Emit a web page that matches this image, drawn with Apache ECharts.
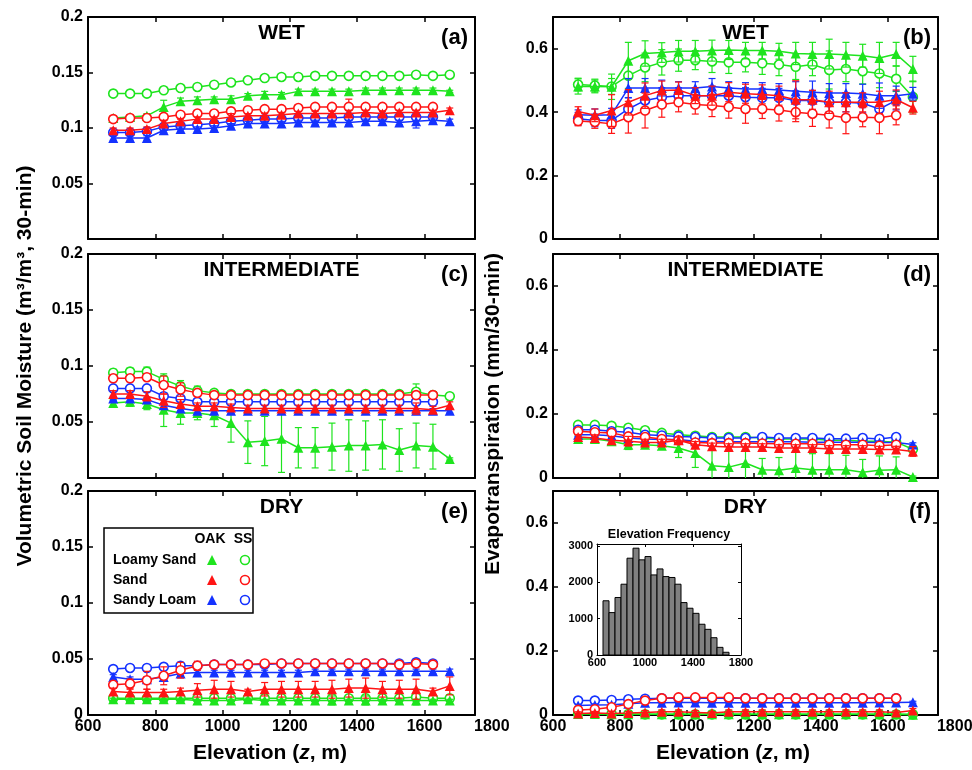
<!DOCTYPE html>
<html>
<head>
<meta charset="utf-8">
<script src="https://cdn.jsdelivr.net/npm/echarts@6/dist/echarts.min.js"></script>
<style>
  html, body { margin: 0; padding: 0; background: #fff; }
  #chart { width: 972px; height: 770px; }
</style>
</head>
<body>
<div id="chart"></div>
<script>
// Elevation class centres (m)
const elevation = [675, 725, 775, 825, 875, 925, 975, 1025, 1075, 1125, 1175, 1225, 1275, 1325, 1375, 1425, 1475, 1525, 1575, 1625, 1675];

// Axis tick labels
const xTicks = [600, 800, 1000, 1200, 1400, 1600, 1800];
const insetXTicks = [600, 1000, 1400, 1800];
const insetYTicks = [0, 1000, 2000, 3000];

// ---- (a) soil moisture, WET (m3/m3) ----
const aLsOak    = [0.109, 0.110, 0.111, 0.119, 0.124, 0.125, 0.126, 0.126, 0.129, 0.130, 0.130, 0.133, 0.133, 0.133, 0.133, 0.134, 0.134, 0.134, 0.134, 0.134, 0.133];
const aLsOakErr = [0.002, 0.002, 0.002, 0.006, 0.003, 0.003, 0.002, 0.003, 0.002, 0.003, 0.002, 0.002, 0.002, 0.002, 0.002, 0.002, 0.002, 0.002, 0.002, 0.002, 0.001];
const aLsSs     = [0.131, 0.131, 0.131, 0.134, 0.136, 0.137, 0.139, 0.141, 0.143, 0.145, 0.146, 0.146, 0.147, 0.147, 0.147, 0.147, 0.147, 0.147, 0.148, 0.147, 0.148];
const aLsSsErr  = [0.001, 0.001, 0.001, 0.001, 0.001, 0.001, 0.001, 0.001, 0.001, 0.001, 0.001, 0.001, 0.001, 0.001, 0.001, 0.001, 0.001, 0.001, 0.001, 0.001, 0.001];
const aSaOak    = [0.098, 0.098, 0.099, 0.104, 0.106, 0.108, 0.108, 0.110, 0.111, 0.111, 0.112, 0.113, 0.113, 0.113, 0.113, 0.114, 0.113, 0.114, 0.114, 0.114, 0.116];
const aSaOakErr = [0.002, 0.002, 0.002, 0.003, 0.002, 0.002, 0.002, 0.003, 0.002, 0.002, 0.002, 0.002, 0.002, 0.002, 0.003, 0.002, 0.002, 0.002, 0.002, 0.002, 0.002];
const aSaSs     = [0.108, 0.109, 0.109, 0.110, 0.112, 0.113, 0.113, 0.115, 0.116, 0.117, 0.117, 0.118, 0.119, 0.119, 0.119, 0.119, 0.119, 0.119, 0.119, 0.119];
const aSaSsErr  = [0.002, 0.002, 0.002, 0.002, 0.002, 0.002, 0.002, 0.002, 0.002, 0.002, 0.002, 0.003, 0.002, 0.002, 0.007, 0.002, 0.002, 0.002, 0.002, 0.002];
const aSlOak    = [0.091, 0.091, 0.091, 0.098, 0.099, 0.099, 0.100, 0.102, 0.104, 0.104, 0.104, 0.105, 0.105, 0.105, 0.105, 0.106, 0.106, 0.105, 0.106, 0.107, 0.106];
const aSlOakErr = [0.002, 0.002, 0.002, 0.002, 0.002, 0.002, 0.002, 0.002, 0.002, 0.002, 0.002, 0.002, 0.002, 0.002, 0.002, 0.002, 0.002, 0.002, 0.006, 0.002, 0.002];
const aSlSs     = [0.096, 0.096, 0.097, 0.101, 0.102, 0.103, 0.104, 0.106, 0.107, 0.108, 0.108, 0.109, 0.109, 0.109, 0.110, 0.110, 0.110, 0.110, 0.110, 0.110];
const aSlSsErr  = [0.002, 0.002, 0.002, 0.002, 0.002, 0.002, 0.002, 0.002, 0.002, 0.002, 0.002, 0.002, 0.002, 0.002, 0.002, 0.002, 0.002, 0.002, 0.002, 0.002];

// ---- (b) evapotranspiration, WET (mm/30-min) ----
const bLsOak    = [0.481, 0.481, 0.480, 0.562, 0.585, 0.588, 0.592, 0.592, 0.594, 0.596, 0.594, 0.594, 0.592, 0.585, 0.583, 0.583, 0.581, 0.578, 0.571, 0.583, 0.536];
const bLsOakErr = [0.024, 0.020, 0.040, 0.058, 0.040, 0.031, 0.034, 0.034, 0.033, 0.030, 0.026, 0.026, 0.025, 0.035, 0.037, 0.047, 0.039, 0.036, 0.049, 0.037, 0.040];
const bLsSs     = [0.487, 0.484, 0.481, 0.515, 0.541, 0.557, 0.564, 0.564, 0.560, 0.557, 0.557, 0.554, 0.550, 0.543, 0.550, 0.533, 0.536, 0.529, 0.522, 0.505, 0.448];
const bLsSsErr  = [0.020, 0.020, 0.025, 0.040, 0.045, 0.040, 0.035, 0.030, 0.035, 0.035, 0.030, 0.035, 0.035, 0.040, 0.035, 0.060, 0.040, 0.040, 0.045, 0.040, 0.050];
const bSaOak    = [0.402, 0.390, 0.405, 0.431, 0.452, 0.468, 0.470, 0.452, 0.452, 0.463, 0.458, 0.456, 0.452, 0.439, 0.439, 0.431, 0.431, 0.431, 0.431, 0.440, 0.414];
const bSaOakErr = [0.015, 0.020, 0.050, 0.040, 0.040, 0.030, 0.025, 0.025, 0.030, 0.030, 0.030, 0.030, 0.030, 0.060, 0.030, 0.035, 0.030, 0.030, 0.035, 0.030, 0.020];
const bSaSs     = [0.372, 0.369, 0.363, 0.384, 0.405, 0.424, 0.431, 0.424, 0.421, 0.416, 0.410, 0.410, 0.407, 0.400, 0.395, 0.390, 0.382, 0.384, 0.382, 0.390];
const bSaSsErr  = [0.015, 0.020, 0.030, 0.050, 0.055, 0.040, 0.030, 0.030, 0.035, 0.035, 0.045, 0.030, 0.035, 0.030, 0.040, 0.040, 0.050, 0.030, 0.050, 0.030];
const bSlOak    = [0.392, 0.390, 0.392, 0.476, 0.476, 0.476, 0.476, 0.476, 0.481, 0.476, 0.473, 0.473, 0.470, 0.466, 0.463, 0.460, 0.460, 0.458, 0.452, 0.452, 0.458];
const bSlOakErr = [0.015, 0.020, 0.020, 0.030, 0.030, 0.025, 0.020, 0.020, 0.025, 0.020, 0.020, 0.020, 0.020, 0.030, 0.035, 0.030, 0.030, 0.030, 0.040, 0.030, 0.020];
const bSlSs     = [0.379, 0.374, 0.374, 0.410, 0.437, 0.447, 0.452, 0.452, 0.452, 0.452, 0.447, 0.445, 0.445, 0.437, 0.437, 0.431, 0.431, 0.428, 0.410, 0.437];
const bSlSsErr  = [0.020, 0.020, 0.025, 0.035, 0.035, 0.030, 0.025, 0.025, 0.030, 0.025, 0.030, 0.030, 0.030, 0.030, 0.030, 0.030, 0.030, 0.030, 0.035, 0.030];

// ---- (c) soil moisture, INTERMEDIATE ----
const cLsOak    = [0.067, 0.068, 0.066, 0.061, 0.058, 0.058, 0.056, 0.049, 0.032, 0.033, 0.035, 0.027, 0.027, 0.028, 0.029, 0.029, 0.030, 0.025, 0.029, 0.028, 0.017];
const cLsOakErr = [0.003, 0.004, 0.005, 0.015, 0.010, 0.006, 0.010, 0.017, 0.019, 0.022, 0.030, 0.018, 0.018, 0.021, 0.023, 0.022, 0.022, 0.019, 0.020, 0.020, 0.001];
const cLsSs     = [0.094, 0.095, 0.095, 0.088, 0.082, 0.078, 0.076, 0.075, 0.075, 0.075, 0.075, 0.075, 0.075, 0.075, 0.075, 0.075, 0.075, 0.075, 0.077, 0.074, 0.073];
const cLsSsErr  = [0.003, 0.003, 0.004, 0.005, 0.005, 0.004, 0.003, 0.003, 0.003, 0.003, 0.003, 0.003, 0.003, 0.003, 0.003, 0.003, 0.003, 0.003, 0.007, 0.003, 0.002];
const cSaOak    = [0.075, 0.075, 0.073, 0.069, 0.066, 0.064, 0.064, 0.063, 0.062, 0.062, 0.062, 0.062, 0.062, 0.062, 0.062, 0.062, 0.062, 0.062, 0.062, 0.061, 0.065];
const cSaOakErr = [0.003, 0.003, 0.004, 0.006, 0.004, 0.003, 0.003, 0.003, 0.003, 0.003, 0.003, 0.003, 0.003, 0.003, 0.003, 0.003, 0.003, 0.003, 0.005, 0.003, 0.003];
const cSaSs     = [0.089, 0.089, 0.090, 0.083, 0.079, 0.076, 0.074, 0.074, 0.074, 0.074, 0.074, 0.074, 0.074, 0.074, 0.074, 0.074, 0.074, 0.074, 0.074, 0.074];
const cSaSsErr  = [0.003, 0.003, 0.003, 0.008, 0.006, 0.003, 0.003, 0.003, 0.003, 0.003, 0.003, 0.003, 0.003, 0.003, 0.003, 0.003, 0.003, 0.003, 0.003, 0.003];
const cSlOak    = [0.071, 0.071, 0.070, 0.065, 0.062, 0.060, 0.060, 0.060, 0.060, 0.060, 0.060, 0.060, 0.060, 0.060, 0.060, 0.060, 0.060, 0.060, 0.060, 0.060, 0.060];
const cSlOakErr = [0.002, 0.002, 0.002, 0.002, 0.002, 0.002, 0.002, 0.002, 0.002, 0.002, 0.002, 0.002, 0.002, 0.002, 0.002, 0.002, 0.002, 0.002, 0.002, 0.002, 0.002];
const cSlSs     = [0.080, 0.080, 0.080, 0.073, 0.071, 0.068, 0.068, 0.068, 0.068, 0.068, 0.068, 0.068, 0.068, 0.068, 0.068, 0.068, 0.068, 0.068, 0.068, 0.068];
const cSlSsErr  = [0.002, 0.002, 0.002, 0.002, 0.002, 0.002, 0.002, 0.002, 0.002, 0.002, 0.002, 0.002, 0.002, 0.002, 0.002, 0.002, 0.002, 0.002, 0.002, 0.002];

// ---- (d) evapotranspiration, INTERMEDIATE ----
const dLsOak    = [0.122, 0.122, 0.115, 0.104, 0.104, 0.101, 0.094, 0.078, 0.038, 0.034, 0.047, 0.026, 0.024, 0.031, 0.026, 0.026, 0.026, 0.018, 0.024, 0.026, 0.003];
const dLsOakErr = [0.010, 0.010, 0.010, 0.015, 0.010, 0.010, 0.030, 0.045, 0.050, 0.050, 0.050, 0.035, 0.040, 0.050, 0.050, 0.050, 0.045, 0.040, 0.045, 0.040, 0.003];
const dLsSs     = [0.166, 0.166, 0.163, 0.157, 0.149, 0.141, 0.135, 0.132, 0.128, 0.128, 0.128, 0.125, 0.122, 0.122, 0.122, 0.118, 0.118, 0.115, 0.115, 0.112, 0.090];
const dLsSsErr  = [0.005, 0.005, 0.005, 0.005, 0.005, 0.005, 0.005, 0.005, 0.005, 0.005, 0.005, 0.005, 0.005, 0.005, 0.005, 0.005, 0.005, 0.005, 0.005, 0.005, 0.005];
const dSaOak    = [0.128, 0.125, 0.118, 0.115, 0.111, 0.111, 0.118, 0.104, 0.099, 0.097, 0.097, 0.097, 0.094, 0.094, 0.094, 0.091, 0.091, 0.091, 0.089, 0.089, 0.083];
const dSaOakErr = [0.008, 0.010, 0.012, 0.015, 0.010, 0.010, 0.010, 0.010, 0.010, 0.010, 0.010, 0.010, 0.010, 0.010, 0.010, 0.010, 0.010, 0.010, 0.010, 0.010, 0.015];
const dSaSs     = [0.146, 0.143, 0.141, 0.130, 0.128, 0.122, 0.118, 0.111, 0.109, 0.109, 0.109, 0.108, 0.107, 0.107, 0.107, 0.104, 0.104, 0.104, 0.101, 0.104];
const dSaSsErr  = [0.006, 0.006, 0.006, 0.006, 0.006, 0.006, 0.006, 0.006, 0.006, 0.006, 0.006, 0.006, 0.006, 0.006, 0.006, 0.006, 0.006, 0.006, 0.006, 0.006];
const dSlOak    = [0.135, 0.135, 0.132, 0.125, 0.122, 0.120, 0.120, 0.115, 0.114, 0.113, 0.113, 0.113, 0.113, 0.113, 0.112, 0.112, 0.112, 0.112, 0.111, 0.111, 0.105];
const dSlOakErr = [0.005, 0.005, 0.005, 0.005, 0.005, 0.005, 0.005, 0.005, 0.005, 0.005, 0.005, 0.005, 0.005, 0.005, 0.005, 0.005, 0.005, 0.005, 0.005, 0.005, 0.005];
const dSlSs     = [0.151, 0.151, 0.146, 0.143, 0.135, 0.133, 0.130, 0.128, 0.125, 0.125, 0.125, 0.128, 0.125, 0.125, 0.125, 0.123, 0.123, 0.125, 0.122, 0.128];
const dSlSsErr  = [0.005, 0.005, 0.005, 0.005, 0.005, 0.005, 0.005, 0.005, 0.005, 0.005, 0.005, 0.005, 0.005, 0.005, 0.005, 0.005, 0.005, 0.005, 0.005, 0.005];

// ---- (e) soil moisture, DRY ----
const eLsOak    = [0.014, 0.014, 0.014, 0.014, 0.014, 0.013, 0.013, 0.013, 0.014, 0.013, 0.013, 0.013, 0.013, 0.013, 0.013, 0.013, 0.013, 0.013, 0.013, 0.013, 0.013];
const eLsOakErr = [0.001, 0.001, 0.001, 0.001, 0.001, 0.001, 0.001, 0.001, 0.001, 0.001, 0.001, 0.001, 0.001, 0.004, 0.001, 0.004, 0.001, 0.001, 0.001, 0.001, 0.001];
const eLsSs     = [0.015, 0.015, 0.015, 0.015, 0.015, 0.015, 0.015, 0.015, 0.015, 0.015, 0.015, 0.015, 0.015, 0.015, 0.015, 0.015, 0.015, 0.015, 0.016, 0.015, 0.015];
const eLsSsErr  = [0.001, 0.001, 0.001, 0.001, 0.001, 0.001, 0.001, 0.001, 0.001, 0.001, 0.001, 0.001, 0.001, 0.003, 0.001, 0.005, 0.001, 0.001, 0.007, 0.001, 0.001];
const eSaOak    = [0.021, 0.020, 0.020, 0.020, 0.021, 0.022, 0.023, 0.023, 0.021, 0.023, 0.023, 0.023, 0.023, 0.023, 0.024, 0.024, 0.023, 0.023, 0.023, 0.021, 0.026];
const eSaOakErr = [0.003, 0.003, 0.003, 0.003, 0.003, 0.006, 0.008, 0.007, 0.002, 0.006, 0.007, 0.007, 0.007, 0.008, 0.008, 0.009, 0.007, 0.008, 0.009, 0.003, 0.008];
const eSaSs     = [0.027, 0.028, 0.031, 0.035, 0.040, 0.044, 0.045, 0.045, 0.045, 0.046, 0.046, 0.046, 0.046, 0.046, 0.046, 0.046, 0.046, 0.045, 0.046, 0.045];
const eSaSsErr  = [0.003, 0.004, 0.008, 0.008, 0.007, 0.004, 0.002, 0.002, 0.002, 0.002, 0.002, 0.002, 0.002, 0.002, 0.002, 0.002, 0.002, 0.002, 0.002, 0.002];
const eSlOak    = [0.034, 0.032, 0.032, 0.034, 0.037, 0.038, 0.038, 0.038, 0.038, 0.038, 0.038, 0.038, 0.039, 0.039, 0.039, 0.039, 0.039, 0.039, 0.039, 0.039, 0.039];
const eSlOakErr = [0.002, 0.002, 0.002, 0.002, 0.002, 0.002, 0.002, 0.002, 0.002, 0.002, 0.002, 0.002, 0.002, 0.002, 0.002, 0.002, 0.002, 0.002, 0.002, 0.002, 0.002];
const eSlSs     = [0.041, 0.042, 0.042, 0.043, 0.044, 0.044, 0.045, 0.045, 0.045, 0.045, 0.046, 0.046, 0.046, 0.046, 0.046, 0.046, 0.046, 0.046, 0.047, 0.046];
const eSlSsErr  = [0.002, 0.002, 0.002, 0.002, 0.002, 0.002, 0.002, 0.002, 0.002, 0.002, 0.002, 0.002, 0.002, 0.002, 0.002, 0.002, 0.002, 0.002, 0.002, 0.002];

// ---- (f) evapotranspiration, DRY ----
const fLsOak    = [0.003, 0.003, 0.002, 0.002, 0.002, 0.002, 0.002, 0.002, 0.002, 0.002, 0.002, 0.002, 0.002, 0.002, 0.002, 0.002, 0.002, 0.002, 0.002, 0.002, 0.001];
const fLsOakErr = [0.002, 0.002, 0.002, 0.002, 0.002, 0.002, 0.002, 0.002, 0.002, 0.002, 0.002, 0.002, 0.002, 0.002, 0.002, 0.002, 0.002, 0.002, 0.002, 0.002, 0.002];
const fLsSs     = [0.004, 0.004, 0.004, 0.003, 0.002, 0.002, 0.002, 0.002, 0.002, 0.002, 0.002, 0.002, 0.002, 0.002, 0.002, 0.002, 0.002, 0.002, 0.002, 0.002, 0.002];
const fLsSsErr  = [0.002, 0.002, 0.002, 0.002, 0.002, 0.002, 0.002, 0.002, 0.002, 0.002, 0.002, 0.002, 0.002, 0.002, 0.002, 0.002, 0.002, 0.002, 0.002, 0.002, 0.002];
const fSaOak    = [0.005, 0.006, 0.005, 0.006, 0.008, 0.010, 0.010, 0.008, 0.006, 0.010, 0.010, 0.010, 0.010, 0.010, 0.010, 0.010, 0.010, 0.010, 0.010, 0.008, 0.014];
const fSaOakErr = [0.005, 0.005, 0.005, 0.005, 0.006, 0.006, 0.006, 0.006, 0.005, 0.006, 0.006, 0.006, 0.006, 0.006, 0.006, 0.006, 0.006, 0.006, 0.006, 0.005, 0.006];
const fSaSs     = [0.016, 0.018, 0.024, 0.034, 0.045, 0.052, 0.055, 0.055, 0.055, 0.055, 0.052, 0.052, 0.052, 0.052, 0.052, 0.052, 0.052, 0.052, 0.052, 0.052];
const fSaSsErr  = [0.004, 0.004, 0.005, 0.005, 0.005, 0.004, 0.004, 0.004, 0.004, 0.004, 0.004, 0.004, 0.004, 0.004, 0.004, 0.004, 0.004, 0.004, 0.004, 0.004];
const fSlOak    = [0.030, 0.031, 0.032, 0.035, 0.038, 0.038, 0.039, 0.039, 0.038, 0.038, 0.038, 0.038, 0.038, 0.038, 0.038, 0.038, 0.038, 0.038, 0.039, 0.039, 0.040];
const fSlOakErr = [0.003, 0.003, 0.003, 0.003, 0.003, 0.003, 0.003, 0.003, 0.003, 0.003, 0.003, 0.003, 0.003, 0.003, 0.003, 0.003, 0.003, 0.003, 0.003, 0.003, 0.003];
const fSlSs     = [0.045, 0.045, 0.047, 0.049, 0.051, 0.052, 0.052, 0.052, 0.052, 0.052, 0.052, 0.052, 0.052, 0.052, 0.052, 0.052, 0.052, 0.052, 0.052, 0.052];
const fSlSsErr  = [0.003, 0.003, 0.003, 0.003, 0.003, 0.003, 0.003, 0.003, 0.003, 0.003, 0.003, 0.003, 0.003, 0.003, 0.003, 0.003, 0.003, 0.003, 0.003, 0.003];

// Number of cells per elevation class (inset histogram)
const elevationCount = [1490, 1165, 1580, 1945, 2660, 2935, 2615, 2705, 2200, 2365, 2155, 2130, 1945, 1440, 1285, 1145, 845, 705, 475, 210, 75];

// ---------------------------------------------------------------------------
const FONT = '"Liberation Sans", Arial, Helvetica, sans-serif';
const COLOR = { Ls: '#1ee41e', Sa: '#ff1414', Sl: '#1432ff' };
const SOIL_NAMES = { Ls: 'Loamy Sand', Sa: 'Sand', Sl: 'Sandy Loam' };
// drawing order: green below, blue, red on top; circles (SS) under triangles (OAK)
const DRAW_ORDER = [['Ls', 'Ss'], ['Ls', 'Oak'], ['Sl', 'Ss'], ['Sl', 'Oak'], ['Sa', 'Ss'], ['Sa', 'Oak']];

const GRID_LEFT = [88, 553], GRID_WIDTH = [387, 385];
const GRID_TOP = [17, 254, 491], GRID_HEIGHT = [222, 224, 224];
const X_MIN = 600, X_MAX = 1750, X_STEP = 200;

const panels = [
  { title: 'WET', tag: '(a)', row: 0, col: 0, kind: 'sm',
    sets: { LsOak: [aLsOak, aLsOakErr], LsSs: [aLsSs, aLsSsErr], SaOak: [aSaOak, aSaOakErr], SaSs: [aSaSs, aSaSsErr], SlOak: [aSlOak, aSlOakErr], SlSs: [aSlSs, aSlSsErr] } },
  { title: 'WET', tag: '(b)', row: 0, col: 1, kind: 'et',
    sets: { LsOak: [bLsOak, bLsOakErr], LsSs: [bLsSs, bLsSsErr], SaOak: [bSaOak, bSaOakErr], SaSs: [bSaSs, bSaSsErr], SlOak: [bSlOak, bSlOakErr], SlSs: [bSlSs, bSlSsErr] } },
  { title: 'INTERMEDIATE', tag: '(c)', row: 1, col: 0, kind: 'sm',
    sets: { LsOak: [cLsOak, cLsOakErr], LsSs: [cLsSs, cLsSsErr], SaOak: [cSaOak, cSaOakErr], SaSs: [cSaSs, cSaSsErr], SlOak: [cSlOak, cSlOakErr], SlSs: [cSlSs, cSlSsErr] } },
  { title: 'INTERMEDIATE', tag: '(d)', row: 1, col: 1, kind: 'et',
    sets: { LsOak: [dLsOak, dLsOakErr], LsSs: [dLsSs, dLsSsErr], SaOak: [dSaOak, dSaOakErr], SaSs: [dSaSs, dSaSsErr], SlOak: [dSlOak, dSlOakErr], SlSs: [dSlSs, dSlSsErr] } },
  { title: 'DRY', tag: '(e)', row: 2, col: 0, kind: 'sm',
    sets: { LsOak: [eLsOak, eLsOakErr], LsSs: [eLsSs, eLsSsErr], SaOak: [eSaOak, eSaOakErr], SaSs: [eSaSs, eSaSsErr], SlOak: [eSlOak, eSlOakErr], SlSs: [eSlSs, eSlSsErr] } },
  { title: 'DRY', tag: '(f)', row: 2, col: 1, kind: 'et',
    sets: { LsOak: [fLsOak, fLsOakErr], LsSs: [fLsSs, fLsSsErr], SaOak: [fSaOak, fSaOakErr], SaSs: [fSaSs, fSaSsErr], SlOak: [fSlOak, fSlOakErr], SlSs: [fSlSs, fSlSsErr] } }
];
const Y_RANGE = { sm: { max: 0.2, step: 0.05 }, et: { max: 0.7, step: 0.2 } };

const boldText = (size) => ({ fontFamily: FONT, fontSize: size, fontWeight: 'bold', fill: '#000' });

function xAxisCfg(gridIndex, position, labelled) {
  return {
    type: 'value', gridIndex, position, min: X_MIN, max: X_MAX, interval: X_STEP,
    axisLine: { show: true, onZero: false, lineStyle: { color: '#000', width: 2 } },
    axisTick: { show: true, inside: true, length: 5, lineStyle: { color: '#000', width: 1.5 } },
    axisLabel: {
      show: labelled, margin: 4, color: '#000', fontFamily: FONT, fontSize: 16, fontWeight: 'bold',
      showMaxLabel: false,
      formatter: (v) => (xTicks.indexOf(v) >= 0 ? String(v) : '')
    },
    splitLine: { show: false }
  };
}

function yAxisCfg(gridIndex, position, labelled, p) {
  const r = Y_RANGE[p.kind];
  return {
    type: 'value', gridIndex, position, min: 0, max: r.max, interval: r.step,
    axisLine: { show: true, onZero: false, lineStyle: { color: '#000', width: 2 } },
    axisTick: { show: true, inside: true, length: 5, lineStyle: { color: '#000', width: 1.5 } },
    axisLabel: {
      show: labelled, margin: 5, color: '#000', fontFamily: FONT, fontSize: 16, fontWeight: 'bold',
      showMinLabel: p.kind === 'et' || p.row === 2,
      showMaxLabel: p.kind === 'sm'
    },
    splitLine: { show: false }
  };
}

function errorBars(xi, yi, color, vals, errs, z) {
  return {
    type: 'custom', xAxisIndex: xi, yAxisIndex: yi, z, silent: true, animation: false, clip: true,
    dimensions: ['x', 'lo', 'hi'], encode: { x: 0, y: [1, 2] },
    data: vals.map((v, i) => [elevation[i], v - errs[i], v + errs[i]]),
    renderItem(params, api) {
      const x = api.value(0);
      const lo = api.coord([x, api.value(1)]);
      const hi = api.coord([x, api.value(2)]);
      const cap = 3.5;
      const st = { stroke: color, lineWidth: 1.2 };
      return {
        type: 'group',
        children: [
          { type: 'line', shape: { x1: lo[0], y1: lo[1], x2: hi[0], y2: hi[1] }, style: st },
          { type: 'line', shape: { x1: lo[0] - cap, y1: lo[1], x2: lo[0] + cap, y2: lo[1] }, style: st },
          { type: 'line', shape: { x1: hi[0] - cap, y1: hi[1], x2: hi[0] + cap, y2: hi[1] }, style: st }
        ]
      };
    }
  };
}

const grids = [], xAxes = [], yAxes = [], series = [], graphics = [];
const xMainIdx = [], yMainIdx = [];

panels.forEach((p, pi) => {
  const left = GRID_LEFT[p.col], top = GRID_TOP[p.row];
  const width = GRID_WIDTH[p.col], height = GRID_HEIGHT[p.row];
  grids.push({ left, top, width, height });

  const xi = xAxes.length;
  xAxes.push(xAxisCfg(pi, 'bottom', p.row === 2));
  xAxes.push(xAxisCfg(pi, 'top', false));
  const yi = yAxes.length;
  yAxes.push(yAxisCfg(pi, 'left', true, p));
  yAxes.push(yAxisCfg(pi, 'right', false, p));
  xMainIdx.push(xi); yMainIdx.push(yi);

  DRAW_ORDER.forEach(([soil, veg], k) => {
    const [vals, errs] = p.sets[soil + veg];
    const color = COLOR[soil];
    const oak = veg === 'Oak';
    const z = 3 + k;
    series.push(errorBars(xi, yi, color, vals, errs, z));
    series.push({
      type: 'line', name: SOIL_NAMES[soil] + (oak ? ' OAK' : ' SS'),
      xAxisIndex: xi, yAxisIndex: yi, z, silent: true, animation: false, clip: false,
      data: vals.map((v, i) => [elevation[i], v]),
      symbol: oak ? 'triangle' : 'circle', symbolSize: oak ? 10 : 9, showSymbol: true,
      lineStyle: { color, width: 1.5 },
      itemStyle: { color: oak ? color : '#fff', borderColor: color, borderWidth: oak ? 0 : 1.6 },
      emphasis: { disabled: true }
    });
  });

  // panel heading and tag
  graphics.push({
    type: 'text', id: 'title' + pi, z: 100, x: left + width / 2, y: top + 16,
    style: Object.assign(boldText(21), { text: p.title, align: 'center', verticalAlign: 'middle' })
  });
  graphics.push({
    type: 'text', id: 'tag' + pi, z: 100, x: left + width - 7, y: top + 21,
    style: Object.assign(boldText(22), { text: p.tag, align: 'right', verticalAlign: 'middle' })
  });
});

// ---- inset: elevation frequency histogram inside (f) ----
const insetGrid = grids.length;
grids.push({ left: 597, top: 544, width: 144, height: 111, show: true, backgroundColor: '#fff', borderWidth: 0 });
const insetAxisLine = { show: true, onZero: false, lineStyle: { color: '#000', width: 1 } };
const insetTick = { show: true, inside: true, length: 3, lineStyle: { color: '#000', width: 1 } };
const insetLabel = { color: '#000', fontFamily: FONT, fontSize: 11, fontWeight: 'bold' };
const insetX = xAxes.length;
xAxes.push({ type: 'value', gridIndex: insetGrid, position: 'bottom', min: 600, max: 1800, interval: 400,
  axisLine: insetAxisLine, axisTick: insetTick, splitLine: { show: false },
  axisLabel: Object.assign({ margin: 2, formatter: (v) => (insetXTicks.indexOf(v) >= 0 ? String(v) : '') }, insetLabel) });
xAxes.push({ type: 'value', gridIndex: insetGrid, position: 'top', min: 600, max: 1800, interval: 400,
  axisLine: insetAxisLine, axisTick: insetTick, splitLine: { show: false }, axisLabel: { show: false } });
const insetY = yAxes.length;
yAxes.push({ type: 'value', gridIndex: insetGrid, position: 'left', min: 0, max: 3050, interval: 1000,
  axisLine: insetAxisLine, axisTick: insetTick, splitLine: { show: false },
  axisLabel: Object.assign({ margin: 4, showMaxLabel: false, formatter: (v) => (insetYTicks.indexOf(v) >= 0 ? String(v) : '') }, insetLabel) });
yAxes.push({ type: 'value', gridIndex: insetGrid, position: 'right', min: 0, max: 3050, interval: 1000,
  axisLine: insetAxisLine, axisTick: insetTick, splitLine: { show: false }, axisLabel: { show: false } });

const binWidth = elevation[1] - elevation[0];
series.push({
  type: 'custom', name: 'Elevation Frequency', xAxisIndex: insetX, yAxisIndex: insetY, z: 20,
  silent: true, animation: false, clip: true,
  dimensions: ['x', 'n'], encode: { x: 0, y: 1 },
  data: elevation.map((x, i) => [x, elevationCount[i]]),
  renderItem(params, api) {
    const x = api.value(0), n = api.value(1);
    const p0 = api.coord([x - binWidth / 2, n]);
    const p1 = api.coord([x + binWidth / 2, 0]);
    return {
      type: 'rect',
      shape: { x: p0[0], y: p0[1], width: p1[0] - p0[0], height: p1[1] - p0[1] },
      style: { fill: '#808080', stroke: '#000', lineWidth: 1 }
    };
  }
});
graphics.push({
  type: 'text', id: 'insetTitle', z: 100, x: 669, y: 535,
  style: Object.assign(boldText(12.5), { text: 'Elevation Frequency', align: 'center', verticalAlign: 'middle' })
});

// ---- shared axis titles ----
graphics.push({
  type: 'text', id: 'yTitleLeft', z: 100, x: 25, y: 366, rotation: Math.PI / 2,
  style: Object.assign(boldText(21), { text: 'Volumetric Soil Moisture (m³/m³, 30-min)', align: 'center', verticalAlign: 'middle' })
});
graphics.push({
  type: 'text', id: 'yTitleRight', z: 100, x: 493, y: 414, rotation: Math.PI / 2,
  style: Object.assign(boldText(21), { text: 'Evapotranspiration (mm/30-min)', align: 'center', verticalAlign: 'middle' })
});
[270, 733].forEach((cx, i) => {
  graphics.push({
    type: 'text', id: 'xTitle' + i, z: 100, x: cx, y: 753,
    style: {
      text: '{b|Elevation (}{i|z}{b|, m)}', align: 'center', verticalAlign: 'middle',
      rich: {
        b: { fontFamily: FONT, fontSize: 21, fontWeight: 'bold', fill: '#000' },
        i: { fontFamily: FONT, fontSize: 21, fontWeight: 'bold', fontStyle: 'italic', fill: '#000' }
      }
    }
  });
});

// ---- legend box in (e) ----
const LEG = { x: 104, y: 528, w: 149, h: 85, textX: 113, oakX: 212, ssX: 245, headY: 539, rowY: [560, 580, 600] };
const legend = [
  { type: 'rect', shape: { x: LEG.x, y: LEG.y, width: LEG.w, height: LEG.h }, style: { fill: '#fff', stroke: '#000', lineWidth: 1.5 } },
  { type: 'text', x: 210, y: LEG.headY, style: Object.assign(boldText(14), { text: 'OAK', align: 'center', verticalAlign: 'middle' }) },
  { type: 'text', x: LEG.ssX - 2, y: LEG.headY, style: Object.assign(boldText(14), { text: 'SS', align: 'center', verticalAlign: 'middle' }) }
];
['Ls', 'Sa', 'Sl'].forEach((soil, r) => {
  const cy = LEG.rowY[r];
  legend.push({ type: 'text', x: LEG.textX, y: cy, style: Object.assign(boldText(14), { text: SOIL_NAMES[soil], align: 'left', verticalAlign: 'middle' }) });
  legend.push({ type: 'polygon', shape: { points: [[LEG.oakX, cy - 5], [LEG.oakX - 5, cy + 5], [LEG.oakX + 5, cy + 5]] }, style: { fill: COLOR[soil] } });
  legend.push({ type: 'circle', shape: { cx: LEG.ssX, cy, r: 4.5 }, style: { fill: '#fff', stroke: COLOR[soil], lineWidth: 1.6 } });
});
graphics.push({ type: 'group', id: 'legend', z: 100, children: legend });

const chart = echarts.init(document.getElementById('chart'), null, { renderer: 'canvas' });
chart.setOption({
  animation: false,
  backgroundColor: '#fff',
  grid: grids,
  xAxis: xAxes,
  yAxis: yAxes,
  series,
  graphic: { elements: graphics }
});

// The last elevation tick label (1800) lies just past the plotted range;
// place it through the axis scale of each bottom panel.
const extraLabels = [];
panels.forEach((p, pi) => {
  if (p.row !== 2) return;
  const px = chart.convertToPixel({ xAxisIndex: xMainIdx[pi] }, xTicks[xTicks.length - 1]);
  const py = chart.convertToPixel({ yAxisIndex: yMainIdx[pi] }, 0);
  extraLabels.push({
    type: 'text', id: 'lastTick' + pi, z: 100, x: px, y: py + 4,
    style: Object.assign(boldText(16), { text: String(xTicks[xTicks.length - 1]), align: 'center', verticalAlign: 'top' })
  });
});
chart.setOption({ graphic: { elements: extraLabels } });
</script>
</body>
</html>
